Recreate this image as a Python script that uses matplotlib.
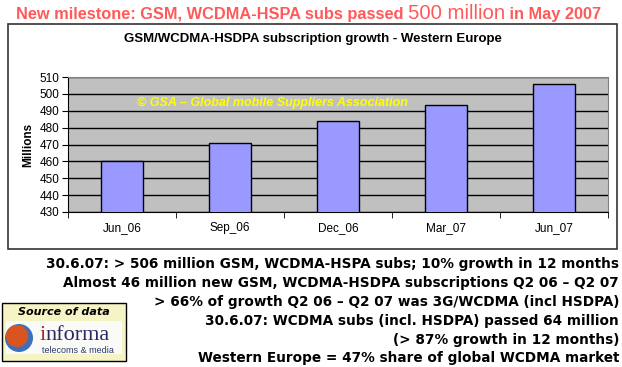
import matplotlib
matplotlib.use("Agg")
from matplotlib import pyplot as plt
from matplotlib.patches import Rectangle, Ellipse
import numpy as np

# %% data
quarters = ["Jun_06", "Sep_06", "Dec_06", "Mar_07", "Jun_07"]
subs_millions = [460, 471, 484, 493.5, 506]
y_ticks = [430, 440, 450, 460, 470, 480, 490, 500, 510]

notes = [
    "30.6.07: > 506 million GSM, WCDMA-HSPA subs; 10% growth in 12 months",
    "Almost 46 million new GSM, WCDMA-HSDPA subscriptions Q2 06 \u2013 Q2 07",
    "> 66% of growth Q2 06 \u2013 Q2 07 was 3G/WCDMA (incl HSDPA)",
    "30.6.07: WCDMA subs (incl. HSDPA) passed 64 million",
    "(> 87% growth in 12 months)",
    "Western Europe = 47% share of global WCDMA market",
]

W, H = 622, 367
plt.rcParams["font.family"] = ["Liberation Sans", "DejaVu Sans"]
fig = plt.figure(figsize=(W / 100, H / 100), dpi=100)
fig.patch.set_facecolor("white")

def fx(px):
    return px / W

def fy(py):
    return 1 - py / H

# chart frame
fig.patches.append(Rectangle((fx(8), fy(249)), fx(617) - fx(8), fy(24) - fy(249),
                             transform=fig.transFigure, fill=False,
                             edgecolor="#333333", lw=1.2))

ax = fig.add_axes([fx(68), fy(212), fx(608) - fx(68), fy(77) - fy(212)])
ax.set_facecolor("#C0C0C0")
x = np.arange(len(quarters))
ax.bar(x, subs_millions, width=0.39, color="#9999FF", edgecolor="black", lw=1.0, zorder=3)
ax.set_ylim(430, 510)
ax.set_xlim(-0.5, len(quarters) - 0.5)
ax.set_yticks(y_ticks)
ax.yaxis.grid(True, color="black", lw=1.0, zorder=1)
ax.set_axisbelow(True)
ax.set_xticks(x)
ax.set_xticklabels(quarters, fontsize=8.5)
ax.set_xticks(np.arange(len(quarters) + 1) - 0.5, minor=True)
ax.tick_params(axis="x", which="major", length=0, pad=7)
ax.tick_params(axis="x", which="minor", length=4, direction="out")
ax.tick_params(axis="y", labelsize=8.5, length=4, direction="out", pad=2)
for s in ["top", "right"]:
    ax.spines[s].set_color("#808080")
ax.spines["left"].set_color("black")
ax.spines["bottom"].set_color("black")
ax.set_ylabel("Millions", fontsize=8.5, fontweight="bold", labelpad=4)
ax.text(0.128, 0.807, "\u00a9 GSA \u2013 Global mobile Suppliers Association",
        transform=ax.transAxes, color="#FFFF00", fontsize=9, fontweight="bold",
        style="italic", va="center", ha="left", zorder=4)

fig.text(fx(312.5), fy(39), "GSM/WCDMA-HSDPA subscription growth - Western Europe",
         ha="center", va="center", fontsize=9.5, fontweight="bold")

# headline, built from pieces
red = "#FF5A5A"
fig.canvas.draw()
r = fig.canvas.get_renderer()
xpos = 16
for txt, size, weight in [("New milestone: GSM, WCDMA-HSPA subs passed ", 11.8, "bold"),
                          ("500 million", 14.7, "normal"),
                          (" in May 2007", 11.8, "bold")]:
    t = fig.text(fx(xpos), fy(19), txt, color=red, fontsize=size, fontweight=weight,
                 ha="left", va="baseline")
    bb = t.get_window_extent(renderer=r)
    xpos += bb.width

# notes at bottom right
note_y = [264, 283, 302, 321, 340, 358]
for txt, yy in zip(notes, note_y):
    fig.text(fx(619), fy(yy), txt, ha="right", va="center", fontsize=9.8,
             fontweight="bold", family="DejaVu Sans")

# source logo box
fig.patches.append(Rectangle((fx(2), fy(361)), fx(126) - fx(2), fy(303) - fy(361),
                             transform=fig.transFigure, facecolor="#F6F3C4",
                             edgecolor="black", lw=1))
fig.patches.append(Rectangle((fx(6), fy(354)), fx(122) - fx(6), fy(321) - fy(354),
                             transform=fig.transFigure, facecolor="#FAFAF6",
                             edgecolor="none"))
fig.text(fx(64), fy(312), "Source of data", ha="center", va="center", fontsize=8,
         fontweight="bold", style="italic", family="DejaVu Sans")
fig.patches.append(Ellipse((fx(19), fy(338)), 28 / W, 28 / H, transform=fig.transFigure,
                           facecolor="#3F6FB8", edgecolor="none"))
fig.patches.append(Ellipse((fx(17), fy(336)), 22 / W, 22 / H, transform=fig.transFigure,
                           facecolor="#D9541E", edgecolor="none"))
fig.text(fx(40), fy(340), "i", ha="left", va="baseline", fontsize=16,
         family="Liberation Serif", color="#B0202A")
fig.text(fx(45.5), fy(340), "nforma", ha="left", va="baseline", fontsize=16,
         family="Liberation Serif", color="#2E2660")
fig.text(fx(42), fy(353), "telecoms & media", ha="left", va="baseline", fontsize=6.5,
         color="#2E3A6A")

fig.savefig("out.png", dpi=100)
